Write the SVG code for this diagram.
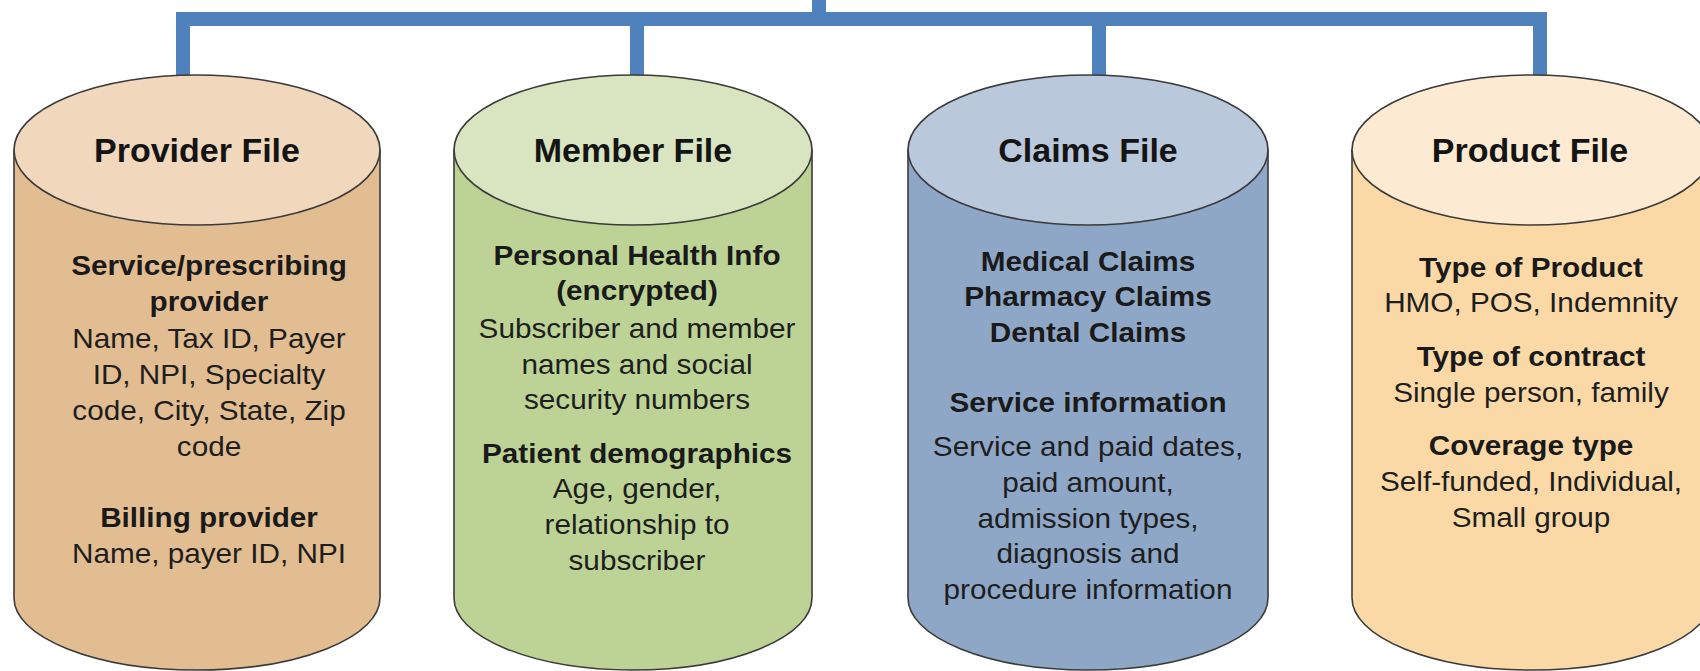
<svg xmlns="http://www.w3.org/2000/svg" width="1700" height="671" viewBox="0 0 1700 671">
<style>
.edge{fill:none;stroke:#4F81BD;stroke-width:14;stroke-linejoin:miter}
.out{stroke:#3a3a3a;stroke-width:1.6}
.title{font-family:"Liberation Sans",Arial,sans-serif;font-weight:bold;font-size:34px;fill:#141414;text-anchor:middle}
.b{font-family:"Liberation Sans",Arial,sans-serif;font-weight:bold;font-size:27.5px;fill:#1a1a1a;text-anchor:middle}
.r{font-family:"Liberation Sans",Arial,sans-serif;font-size:27.5px;fill:#1e1e1e;text-anchor:middle}
</style>
<rect width="1700" height="671" fill="#ffffff"/>
<g id="connectors">
<path class="edge" d="M819 0 V19"/>
<path class="edge" d="M183 77 V19 H1540 V77"/>
<path class="edge" d="M637 19 V77"/>
<path class="edge" d="M1099 19 V77"/>
</g>
<g id="provider">
<path class="out" fill="#E3BD92" d="M14 150 V598 A183 72 0 0 0 380 598 V150 Z"/>
<ellipse class="out" cx="197" cy="150" rx="183" ry="75" fill="#F1D8BD"/>
<text class="title" x="197" y="162">Provider File</text>
<g transform="translate(209 0) scale(1.08 1)">
<text class="b" x="0" y="275">Service/prescribing</text>
<text class="b" x="0" y="311">provider</text>
<text class="r" x="0" y="348">Name, Tax ID, Payer</text>
<text class="r" x="0" y="384">ID, NPI, Specialty</text>
<text class="r" x="0" y="420">code, City, State, Zip</text>
<text class="r" x="0" y="456">code</text>
<text class="b" x="0" y="527">Billing provider</text>
<text class="r" x="0" y="563">Name, payer ID, NPI</text>
</g>
</g>
<g id="member">
<path class="out" fill="#BDD396" d="M454 150 V598 A179 72 0 0 0 812 598 V150 Z"/>
<ellipse class="out" cx="633" cy="150" rx="179" ry="75" fill="#D8E5C0"/>
<text class="title" x="633" y="162">Member File</text>
<g transform="translate(637 0) scale(1.08 1)">
<text class="b" x="0" y="265">Personal Health Info</text>
<text class="b" x="0" y="300">(encrypted)</text>
<text class="r" x="0" y="338">Subscriber and member</text>
<text class="r" x="0" y="374">names and social</text>
<text class="r" x="0" y="409">security numbers</text>
<text class="b" x="0" y="463">Patient demographics</text>
<text class="r" x="0" y="498">Age, gender,</text>
<text class="r" x="0" y="534">relationship to</text>
<text class="r" x="0" y="570">subscriber</text>
</g>
</g>
<g id="claims">
<path class="out" fill="#8FA7C7" d="M908 150 V598 A180 72 0 0 0 1268 598 V150 Z"/>
<ellipse class="out" cx="1088" cy="150" rx="180" ry="75" fill="#BAC8DB"/>
<text class="title" x="1088" y="162">Claims File</text>
<g transform="translate(1088 0) scale(1.08 1)">
<text class="b" x="0" y="271">Medical Claims</text>
<text class="b" x="0" y="306">Pharmacy Claims</text>
<text class="b" x="0" y="342">Dental Claims</text>
<text class="b" x="0" y="412">Service information</text>
<text class="r" x="0" y="456">Service and paid dates,</text>
<text class="r" x="0" y="492">paid amount,</text>
<text class="r" x="0" y="528">admission types,</text>
<text class="r" x="0" y="563">diagnosis and</text>
<text class="r" x="0" y="599">procedure information</text>
</g>
</g>
<g id="product">
<path class="out" fill="#FBD9A6" d="M1352 150 V598 A180 72 0 0 0 1712 598 V150 Z"/>
<ellipse class="out" cx="1532" cy="150" rx="180" ry="75" fill="#FCEBD2"/>
<text class="title" x="1530" y="162">Product File</text>
<g transform="translate(1531 0) scale(1.08 1)">
<text class="b" x="0" y="277">Type of Product</text>
<text class="r" x="0" y="312">HMO, POS, Indemnity</text>
<text class="b" x="0" y="366">Type of contract</text>
<text class="r" x="0" y="402">Single person, family</text>
<text class="b" x="0" y="455">Coverage type</text>
<text class="r" x="0" y="491">Self-funded, Individual,</text>
<text class="r" x="0" y="527">Small group</text>
</g>
</g>
</svg>
